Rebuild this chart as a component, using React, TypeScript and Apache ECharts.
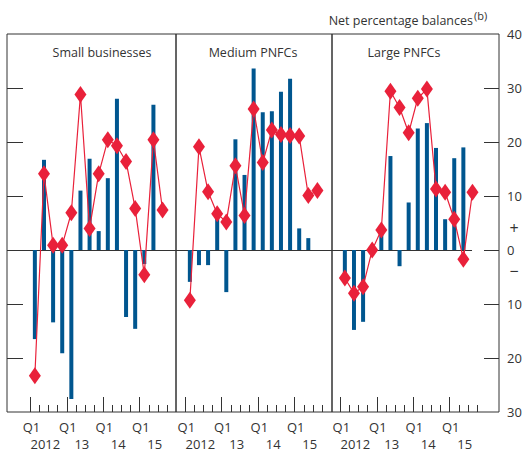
import React, { useEffect, useRef } from "react";
import * as echarts from "echarts";

// ---- Data (net percentage balances) ----
const panelNames = ["Small businesses", "Medium PNFCs", "Large PNFCs"];
const yearLabels = ["2012", "13", "14", "15"];
const yTickLabels = [-30, -20, -10, 0, 10, 20, 30, 40];

// quarterly values from Q1 2012
const smallBars = [-16.5, 16.7, -13.4, -19.1, -27.6, 11.0, 16.9, 3.5, 13.3, 28.0, -12.4, -14.6, -2.6, 26.9];
const smallLine = [-23.3, 14.1, 0.9, 0.9, 6.9, 28.8, 4.0, 14.1, 20.4, 19.3, 16.4, 7.7, -4.6, 20.4, 7.4];

const mediumBars = [-5.9, -2.8, -2.8, 6.0, -7.8, 20.5, 13.9, 33.6, 25.5, 25.7, 29.3, 31.7, 4.0, 2.2];
const mediumLine = [-9.3, 19.1, 10.8, 6.7, 5.2, 15.6, 6.4, 26.1, 16.2, 22.2, 21.4, 21.2, 21.1, 10.1, 11.0];

const largeBars = [-5.5, -14.8, -13.3, 0, 4.0, 17.4, -3.0, 8.8, 22.5, 23.5, 18.9, 5.7, 17.0, 19.0];
const largeLine = [-5.2, -8.0, -6.8, 0, 3.7, 29.4, 26.4, 21.7, 28.1, 29.8, 11.3, 10.7, 5.7, -1.7, 10.7];

const barsData = [smallBars, mediumBars, largeBars];
const lineData = [smallLine, mediumLine, largeLine];

// ---- Layout / style ----
const FONT = "'Open Sans', 'Noto Sans', sans-serif";
const TXT = "#333333";
const FRAME = "#333333";
const BLUE = "#00568f";
const RED = "#e9213a";

const layout = [
  { left: 7, width: 169, xMin: -2.555, xMax: 15.976, titleX: 102 },
  { left: 176, width: 156, xMin: -1.02, xMax: 16.1, titleX: 253 },
  { left: 332, width: 167, xMin: -0.91, xMax: 17.41, titleX: 404 },
];
const GRID_TOP = 34;
const GRID_H = 378;

function buildOption() {
  const grid: any[] = [];
  const xAxis: any[] = [];
  const yAxis: any[] = [];
  const series: any[] = [];
  const graphic: any[] = [];

  const majors = [0, 4, 8, 12];
  const minors = [1, 2, 3, 5, 6, 7, 9, 10, 11, 13, 14, 15];
  const innerTicks = [-20, -10, 0, 10, 20, 30];

  layout.forEach((L, i) => {
    grid.push({
      left: L.left,
      top: GRID_TOP,
      width: L.width,
      height: GRID_H,
      show: true,
      borderColor: FRAME,
      borderWidth: 1,
      containLabel: false,
    });
    const base = {
      type: "value",
      gridIndex: i,
      min: L.xMin,
      max: L.xMax,
      position: "bottom",
      axisLine: { show: false, onZero: false },
      splitLine: { show: false },
    };
    xAxis.push({
      ...base,
      axisTick: { show: true, inside: true, length: 15, customValues: majors, lineStyle: { color: FRAME, width: 1 } },
      axisLabel: {
        show: true,
        customValues: majors.map((m) => m + 0.12),
        formatter: () => "Q1",
        margin: 8,
        fontSize: 13,
        color: TXT,
        fontFamily: FONT,
      },
    });
    xAxis.push({
      ...base,
      axisTick: { show: true, inside: true, length: 7, customValues: minors, lineStyle: { color: FRAME, width: 1 } },
      axisLabel: { show: false },
    });
    xAxis.push({
      ...base,
      axisTick: { show: false },
      axisLabel: {
        show: true,
        customValues: majors.map((m) => m + 1.65),
        formatter: (v: number) => yearLabels[Math.round((v - 1.65) / 4)] ?? "",
        margin: 25,
        fontSize: 13,
        color: TXT,
        fontFamily: FONT,
      },
    });

    const yBase = {
      type: "value",
      gridIndex: i,
      min: -30,
      max: 40,
      axisLine: { show: false, onZero: false },
      splitLine: { show: false },
    };
    if (i === 0) {
      yAxis.push({
        ...yBase,
        position: "left",
        axisTick: { show: true, inside: true, length: 16, customValues: innerTicks, lineStyle: { color: FRAME } },
        axisLabel: { show: false },
      });
    } else if (i === 1) {
      yAxis.push({
        ...yBase,
        axisTick: { show: false },
        axisLabel: { show: false },
      });
    } else {
      yAxis.push({
        ...yBase,
        position: "right",
        axisTick: { show: true, inside: true, length: 15, customValues: innerTicks, lineStyle: { color: FRAME } },
        axisLabel: {
          show: true,
          customValues: yTickLabels,
          formatter: (v: number) => String(Math.abs(v)),
          margin: 8,
          fontSize: 13,
          color: TXT,
          fontFamily: FONT,
        },
      });
    }

    const barSeriesData = barsData[i].map((v, q) => [q + 0.5, v]);
    const lineSeriesData = lineData[i].map((v, q) => [q + 0.5, v]);

    const zeroLine =
      i < 2
        ? [{ yAxis: 0 }]
        : [[{ coord: [L.xMin, 0] }, { coord: [lineData[i].length - 0.55, 0] }]];

    series.push({
      type: "bar",
      xAxisIndex: i * 3,
      yAxisIndex: i,
      data: barSeriesData,
      barWidth: 4,
      itemStyle: { color: BLUE },
      z: 2,
      markLine: {
        silent: true,
        symbol: ["none", "none"],
        label: { show: false },
        lineStyle: { color: FRAME, width: 1, type: "solid" },
        data: zeroLine,
        z: 1,
      },
    });
    series.push({
      type: "line",
      xAxisIndex: i * 3,
      yAxisIndex: i,
      data: lineSeriesData,
      symbol: "diamond",
      symbolSize: [12, 17],
      lineStyle: { color: RED, width: 1.2 },
      itemStyle: { color: RED },
      z: 3,
    });

    graphic.push({
      type: "text",
      x: L.titleX,
      y: 52,
      style: {
        text: panelNames[i],
        fontSize: 12.5,
        fontFamily: FONT,
        fill: TXT,
        align: "center",
        verticalAlign: "middle",
      },
    });
  });

  // sign markers beside the zero label
  graphic.push({
    type: "text",
    x: 514,
    y: 228,
    style: { text: "+", fontSize: 16, fontFamily: FONT, fill: TXT, align: "center", verticalAlign: "middle" },
  });
  graphic.push({
    type: "text",
    x: 514,
    y: 271,
    style: { text: "\u2212", fontSize: 16, fontFamily: FONT, fill: TXT, align: "center", verticalAlign: "middle" },
  });

  graphic.push({
    type: "text",
    x: 473,
    y: 20,
    style: {
      text: "Net percentage balances",
      fontSize: 12.5,
      fontFamily: FONT,
      fill: TXT,
      align: "right",
      verticalAlign: "middle",
    },
  });
  graphic.push({
    type: "text",
    x: 474,
    y: 15,
    style: {
      text: "(b)",
      fontSize: 11,
      fontFamily: FONT,
      fill: TXT,
      align: "left",
      verticalAlign: "middle",
    },
  });

  return {
    animation: false,
    backgroundColor: "#ffffff",
    grid,
    xAxis,
    yAxis,
    series,
    graphic,
  };
}

export default function App() {
  const ref = useRef<HTMLDivElement | null>(null);
  useEffect(() => {
    if (!ref.current) return;
    const chart = echarts.init(ref.current, undefined, { renderer: "svg" });
    chart.setOption(buildOption() as any);
    return () => {
      chart.dispose();
    };
  }, []);
  return (
    <div
      ref={ref}
      style={{ position: "fixed", left: 0, top: 0, width: 528, height: 456, background: "#fff" }}
    />
  );
}
